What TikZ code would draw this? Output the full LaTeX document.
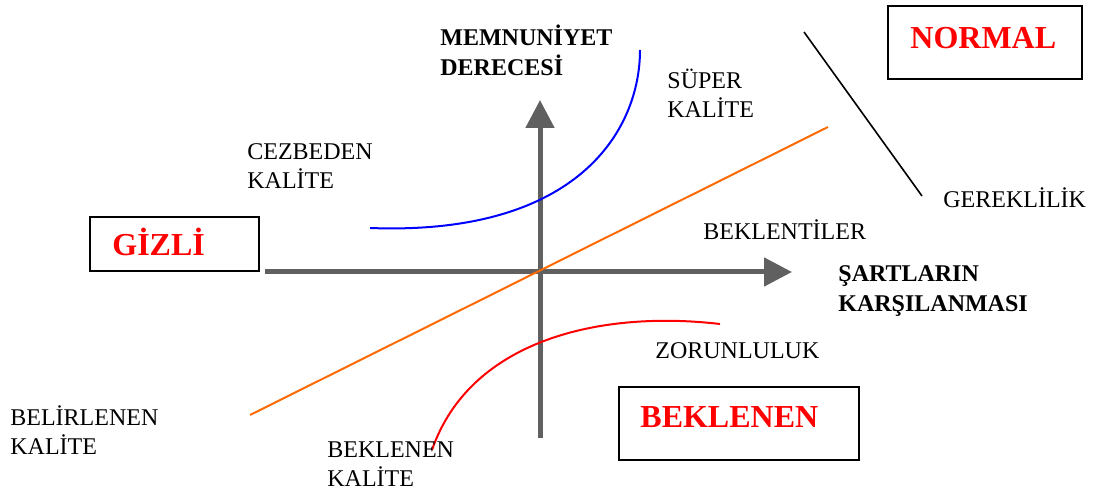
\documentclass[tikz,border=0pt]{standalone}
\usepackage{fontspec}
\setmainfont{Liberation Serif}
\usetikzlibrary{arrows.meta, positioning}
\definecolor{axisgray}{HTML}{606060}
\definecolor{lineorange}{HTML}{FF6A00}

\begin{document}
\begin{tikzpicture}[x=0.5pt, y=-0.5pt,
    axis/.style={axisgray, line width=2.5pt, -{Triangle[length=14pt, width=14pt]}},
    lbl/.style={anchor=base west, inner sep=0pt, align=left, font=\fontsize{12}{14.5}\selectfont},
    blbl/.style={lbl, font=\fontsize{12}{15}\selectfont\bfseries},
    tag/.style={anchor=base west, inner sep=0pt, text=red, font=\fontsize{16}{18}\selectfont\bfseries},
    frame/.style={draw, line width=0.9pt}]
\useasboundingbox (0,0) rectangle (1093,491);
% axes
\coordinate (xl) at (265,272);
\coordinate (xr) at (792,272);
\coordinate (yb) at (540,438);
\coordinate (yt) at (540,100);
\draw[axis] (xl) -- (xr);
\draw[axis] (yb) -- (yt);
% lines and curves
\coordinate (o1) at (250,415);
\coordinate (o2) at (828,127);
\draw[lineorange, line width=1pt] (o1) -- (o2);
\coordinate (g1) at (804,32);
\coordinate (g2) at (922,196);
\draw[black, line width=0.8pt] (g1) -- (g2);
\coordinate (b1) at (370,228);
\coordinate (b2) at (640,50);
\draw[blue, line width=1pt] (b1) .. controls (578,236) and (640,130) .. (b2);
\coordinate (r1) at (432,450);
\coordinate (r2) at (720,324);
\draw[red, line width=1pt] (r1) .. controls (470,340) and (600,310) .. (r2);
% boxes
\draw[frame] (90,217) rectangle (259,271);
\draw[frame] (888,6) rectangle (1082,79);
\draw[frame] (619,387) rectangle (859,460);
\node[tag] (gizli) at (112,256) {GİZLİ};
\node[tag] (normal) at (910,49) {NORMAL};
\node[tag] (beklenen) at (640,428) {BEKLENEN};
% labels (multi-line nodes sit on their last line)
\node[blbl] (memnun) at (440,76) {MEMNUNİYET\\DERECESİ};
\node[blbl] (sartlar) at (838,312) {ŞARTLARIN\\KARŞILANMASI};
\node[lbl] (super) at (667,118) {SÜPER\\KALİTE};
\node[lbl] (cezbeden) at (247,189) {CEZBEDEN\\KALİTE};
\node[lbl] (gerek) at (943,208) {GEREKLİLİK};
\node[lbl] (beklenti) at (703,240) {BEKLENTİLER};
\node[lbl] (zorunlu) at (655,359) {ZORUNLULUK};
\node[lbl] (belirlenen) at (10,455) {BELİRLENEN\\KALİTE};
\node[lbl] (bekkalite) at (327,487) {BEKLENEN\\KALİTE};
\end{tikzpicture}
\end{document}
